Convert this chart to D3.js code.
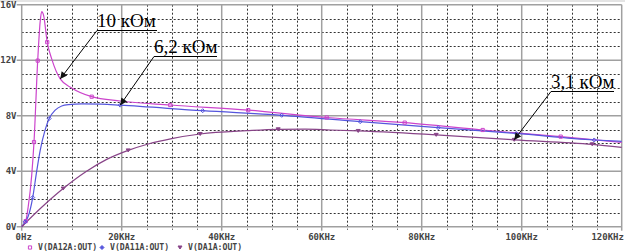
<!DOCTYPE html>
<html>
<head>
<meta charset="utf-8">
<script src="https://cdn.jsdelivr.net/npm/d3@7"></script>
<style>
  body { margin: 0; background: #fff; }
  svg { display: block; }
</style>
</head>
<body>
<svg id="chart"></svg>
<script>
const width = 625;
const height = 252;

// frequency in KHz, voltage in V
const f10k = [0, 0.8, 1.3, 2.0, 2.46, 3.2, 3.7, 4.0, 4.4, 5.1, 6, 7.7, 10, 14, 19.7, 29.7, 45.3, 61, 76.6, 92.2, 107.8, 120];
const v10k = [0, 0.4, 1.44, 3.7, 6.1, 11.97, 14.8, 15.5, 15.2, 13.3, 12.1, 10.65, 10.0, 9.37, 9.06, 8.77, 8.4, 7.87, 7.5, 6.97, 6.49, 6.08];
const m10k = [0.8, 2.46, 3.2, 5.1, 14, 29.7, 45.3, 61, 76.6, 92.2, 107.8];

const f62k = [0, 0.7, 1.3, 2.2, 3.0, 3.7, 4.7, 5.5, 6.7, 8, 9.4, 12, 16, 19.7, 36.2, 52, 67.7, 83.3, 98.9, 114.5, 120];
const v62k = [0, 0.35, 0.75, 2.1, 4.0, 5.5, 7.0, 7.8, 8.4, 8.7, 8.8, 8.85, 8.83, 8.76, 8.36, 8.03, 7.57, 7.14, 6.72, 6.25, 6.15];
const m62k = [0.7, 2.2, 5.5, 19.7, 36.2, 52, 67.7, 83.3, 98.9, 114.5];

const f31k = [0, 4, 8.3, 12.9, 17, 21.3, 25.3, 30, 35.7, 45, 51.3, 56.7, 61.7, 67.3, 82.9, 98.5, 114.1, 120];
const v31k = [0, 1.4, 2.75, 3.98, 4.85, 5.5, 5.96, 6.35, 6.68, 6.92, 7.02, 7.03, 6.97, 6.9, 6.62, 6.26, 5.94, 5.72];
const m31k = [8.3, 21.3, 35.7, 51.3, 67.3, 82.9, 98.5, 114.1];

const xTicks = [0, 20, 40, 60, 80, 100, 120];
const xTickLabels = ["0Hz", "20KHz", "40KHz", "60KHz", "80KHz", "100KHz", "120KHz"];
const yTicks = [0, 4, 8, 12, 16];
const yTickLabels = ["0V", "4V", "8V", "12V", "16V"];

const legendNames = ["V(DA12A:OUT)", "V(DA11A:OUT)", "V(DA1A:OUT)"];
const notes = [
  { text: "10 кОм", series: 0, f: 7.7 },
  { text: "6,2 кОм", series: 1, f: 19.7 },
  { text: "3,1 кОм", series: 2, f: 98.5 }
];

const series = [
  { f: f10k, v: v10k, m: m10k, color: "#cc44cc", marker: "square" },
  { f: f62k, v: v62k, m: m62k, color: "#5555dd", marker: "diamond" },
  { f: f31k, v: v31k, m: m31k, color: "#884488", marker: "triangle" }
];

const svg = d3.select("#chart")
  .attr("width", width)
  .attr("height", height)
  .style("font-family", "'DejaVu Sans Mono', monospace");

const x = d3.scaleLinear().domain([0, 120]).range([21.7, 621.7]);
const y = d3.scaleLinear().domain([0, 16]).range([226.7, 4.7]);

// thin grey band at the very top
svg.append("rect").attr("width", width).attr("height", 2).attr("fill", "#e4e4e4");

const grid = svg.append("g");

// dotted minor grid
grid.selectAll(".vminor")
  .data(d3.range(5, 120, 5).filter(d => d % 20 !== 0))
  .join("line")
  .attr("x1", d => Math.round(x(d)) + 0.5).attr("x2", d => Math.round(x(d)) + 0.5)
  .attr("y1", y(16)).attr("y2", y(0) + 3)
  .attr("stroke", "#333").attr("stroke-dasharray", "2,2");

grid.selectAll(".hminor")
  .data(d3.range(1, 16).filter(d => d % 4 !== 0))
  .join("line")
  .attr("x1", x(0)).attr("x2", x(120))
  .attr("y1", d => Math.round(y(d)) + 0.5).attr("y2", d => Math.round(y(d)) + 0.5)
  .attr("stroke", "#333").attr("stroke-dasharray", "2,2");

// solid major grid
grid.selectAll(".vmajor")
  .data(xTicks)
  .join("line")
  .attr("x1", d => x(d)).attr("x2", d => x(d))
  .attr("y1", y(16)).attr("y2", y(0) + 4)
  .attr("stroke", "#a0a0a0").attr("stroke-width", 1.5);

grid.selectAll(".hmajor")
  .data(yTicks)
  .join("line")
  .attr("x1", x(0) - 5).attr("x2", x(120))
  .attr("y1", d => y(d)).attr("y2", d => y(d))
  .attr("stroke", "#a0a0a0").attr("stroke-width", 1.5);

// axis labels
svg.append("g").selectAll("text")
  .data(yTicks)
  .join("text")
  .attr("x", 16.5).attr("y", d => y(d))
  .attr("dy", "0.35em")
  .attr("text-anchor", "end")
  .attr("font-size", 9).attr("font-weight", "bold").attr("fill", "#444")
  .text((d, i) => yTickLabels[i]);

svg.append("g").selectAll("text")
  .data(xTicks)
  .join("text")
  .attr("x", (d, i) => i === 0 ? x(d) + 2 : (i === xTicks.length - 1 ? x(d) - 14 : x(d)))
  .attr("y", 240)
  .attr("text-anchor", "middle")
  .attr("font-size", 9).attr("font-weight", "bold").attr("fill", "#444")
  .text((d, i) => xTickLabels[i]);

// curves
const line = d3.line()
  .x(d => x(d[0]))
  .y(d => y(d[1]))
  .curve(d3.curveMonotoneX);

function markerPath(type, cx, cy) {
  if (type === "square") return `M${cx - 1.6},${cy - 1.6}h3.2v3.2h-3.2z`;
  if (type === "diamond") return `M${cx},${cy - 2}l2,2l-2,2l-2,-2z`;
  return `M${cx - 2},${cy - 1.5}h4l-2,3z`;
}

const plot = svg.append("g");
series.forEach(s => {
  const pts = s.f.map((f, i) => [f, s.v[i]]);
  plot.append("path")
    .attr("d", line(pts))
    .attr("fill", "none")
    .attr("stroke", s.color)
    .attr("stroke-width", 1.2);
});
series.forEach(s => {
  const pts = s.f.map((f, i) => [f, s.v[i]]).filter(p => s.m.includes(p[0]));
  plot.selectAll(null)
    .data(pts)
    .join("path")
    .attr("d", p => markerPath(s.marker, x(p[0]), y(p[1])))
    .attr("fill", s.marker === "triangle" ? s.color : "none")
    .attr("stroke", s.color)
    .attr("stroke-width", 1);
});

// legend
const legend = svg.append("g").attr("transform", "translate(30,247.5)");
const legendX = [0, 72, 150];
series.forEach((s, i) => {
  legend.append("path")
    .attr("d", markerPath(s.marker, legendX[i], 0))
    .attr("fill", s.marker === "square" ? "none" : s.color)
    .attr("stroke", s.color);
  legend.append("text")
    .attr("x", legendX[i] + 8).attr("y", 0)
    .attr("dy", "0.35em")
    .attr("font-size", 8.2).attr("font-weight", "bold").attr("fill", "#444")
    .text(legendNames[i]);
});

// annotations: text with underline and an arrow to the curve
const notePos = [
  { tx: 97, ty: 27, w: 60 },
  { tx: 154, ty: 53, w: 63 },
  { tx: 551, ty: 88, w: 63 }
];
svg.append("defs").append("marker")
  .attr("id", "arrow")
  .attr("viewBox", "0 0 10 10")
  .attr("refX", 10).attr("refY", 5)
  .attr("markerWidth", 9).attr("markerHeight", 7)
  .attr("orient", "auto")
  .append("path").attr("d", "M0,0L10,5L0,10z").attr("fill", "#111");

notes.forEach((n, i) => {
  const s = series[n.series];
  const idx = s.f.indexOf(n.f);
  const p = notePos[i];
  const g = svg.append("g");
  g.append("text")
    .attr("x", p.tx).attr("y", p.ty)
    .attr("font-family", "'Liberation Serif', 'Times New Roman', serif")
    .attr("font-size", 19).attr("fill", "#000")
    .text(n.text);
  g.append("line")
    .attr("x1", p.tx).attr("x2", p.tx + p.w)
    .attr("y1", p.ty + 3.5).attr("y2", p.ty + 3.5)
    .attr("stroke", "#000").attr("stroke-width", 1);
  g.append("line")
    .attr("x1", p.tx).attr("y1", p.ty + 3.5)
    .attr("x2", x(s.f[idx])).attr("y2", y(s.v[idx]))
    .attr("stroke", "#000").attr("stroke-width", 1)
    .attr("marker-end", "url(#arrow)");
});
</script>
</body>
</html>
